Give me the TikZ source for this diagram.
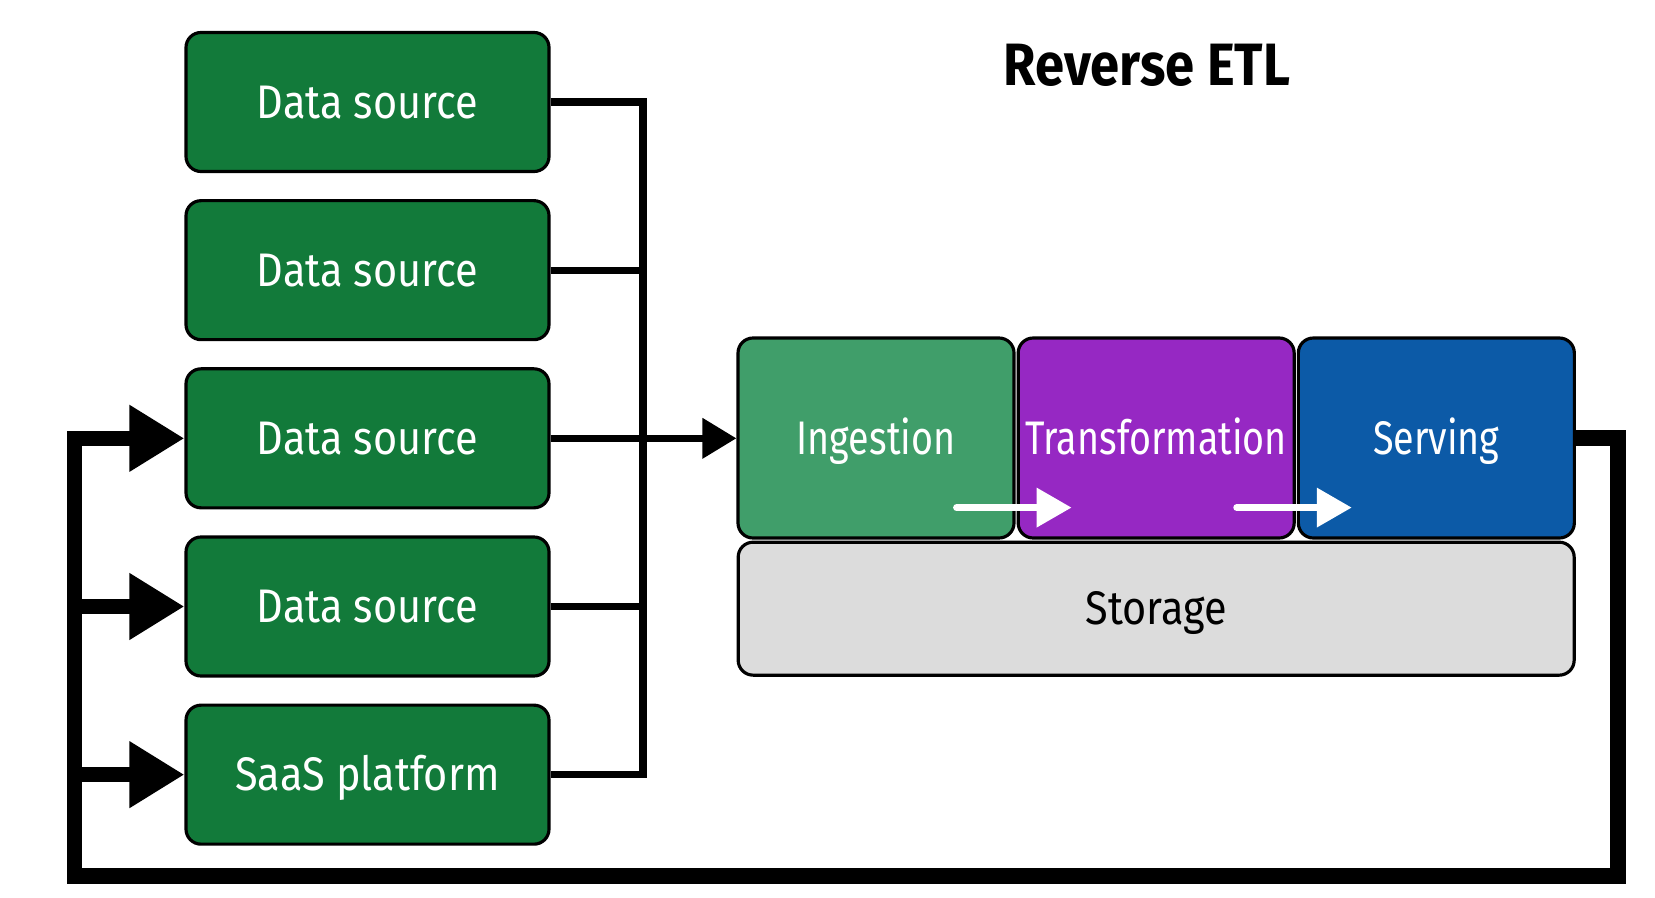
\documentclass[tikz,border=0pt]{standalone}
\usepackage{fontspec}
\setmainfont[FakeStretch=0.88]{Fira Sans}
\newfontfamily\narrowfont[FakeStretch=0.8]{Fira Sans}
\usetikzlibrary{arrows.meta,positioning}

\definecolor{srcgreen}{RGB}{18,122,58}
\definecolor{inggreen}{RGB}{64,158,106}
\definecolor{trpurple}{RGB}{150,40,195}
\definecolor{srvblue}{RGB}{12,90,167}
\definecolor{storgray}{RGB}{220,220,220}

\tikzset{
	box/.style={draw=black, line width=0.9pt, rounded corners=0.15cm, inner sep=0pt,
		text=white, font=\fontsize{13.4}{15}\selectfont, text height=9.2pt, text depth=0pt},
	srcbox/.style={box, fill=srcgreen, minimum width=3.63cm, minimum height=1.39cm},
	stagebox/.style={box, minimum width=2.76cm, minimum height=2cm,
		font=\narrowfont\fontsize{13.4}{15}\selectfont},
	link/.style={line width=2pt},
	linkarrow/.style={link, -{Triangle[length=0.34cm, width=0.39cm]}},
	feed/.style={line width=4.4pt},
	feedarrow/.style={feed, -{Triangle[length=0.55cm, width=0.63cm]}},
	flow/.style={white, line width=2pt, line cap=round, -{Triangle[length=0.35cm, width=0.38cm]}}
}

\begin{document}
\begin{tikzpicture}[node distance=0.26cm]
				%defs
				\useasboundingbox (0,0) rectangle (16.55,8.97);
				\coordinate (bus) at (6.43,0);
				\coordinate (loopL) at (0.745,0);
				\coordinate (loopR) at (16.18,0);
				\coordinate (loopB) at (0,0.21);
				%sources
				\node[srcbox] (ds1) at (3.675,7.95) {Data source};
				\node[srcbox, below=of ds1] (ds2) {Data source};
				\node[srcbox, below=of ds2] (ds3) {Data source};
				\node[srcbox, below=of ds3] (ds4) {Data source};
				\node[srcbox, below=of ds4] (saas) {SaaS platform};
				%stages
				\node[stagebox, fill=inggreen] (ing) at (8.76,4.59) {Ingestion};
				\node[stagebox, fill=trpurple, right=0.01cm of ing] (tr) {Transformation};
				\node[stagebox, fill=srvblue, right=0.01cm of tr] (srv) {Serving};
				\node[box, fill=storgray, text=black, minimum width=8.36cm, minimum height=1.33cm,
					below=0.01cm of tr] (stor) {Storage};
				%title
				\node[font=\bfseries\fontsize{17}{20}\selectfont, text depth=0pt] (title) at (11.47,8.32) {Reverse ETL};
				%lines
				\draw [link] (ds1.east) -| (bus |- saas) -- (saas.east);
				\draw [link] (ds2.east) -- (bus |- ds2);
				\draw [link] (ds4.east) -- (bus |- ds4);
				\draw [linkarrow] (ds3.east) -- (ds3.east -| ing.west);
				%inner arrows
				\coordinate (f1s) at ([shift={(-0.59,0.32)}]ing.south east);
				\coordinate (f1e) at ([shift={(0.56,0.32)}]ing.south east);
				\coordinate (f2s) at ([shift={(-0.59,0.32)}]tr.south east);
				\coordinate (f2e) at ([shift={(0.56,0.32)}]tr.south east);
				\draw [flow] (f1s) -- (f1e);
				\draw [flow] (f2s) -- (f2e);
				%feedback loop
				\draw [feedarrow] (srv.east) -- (loopR |- srv.east) -- (loopR |- loopB)
					-- (loopL |- loopB) -- (loopL |- ds3) -- (ds3.west);
				\draw [feedarrow] (loopL |- ds4) -- (ds4.west);
				\draw [feedarrow] (loopL |- saas) -- (saas.west);
			\end{tikzpicture}
\end{document}
